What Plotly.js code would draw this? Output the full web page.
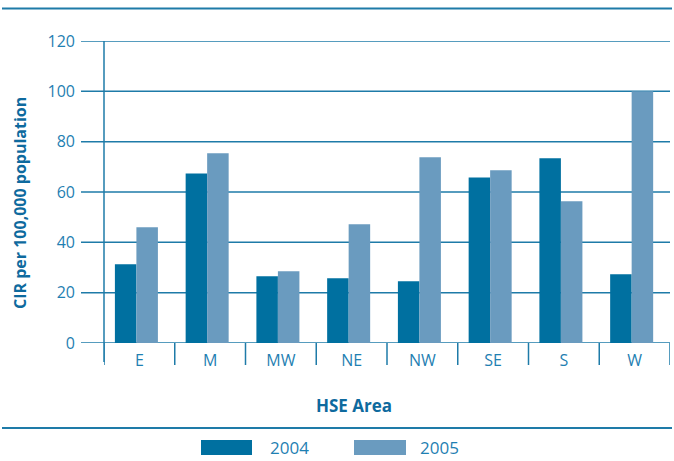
<!DOCTYPE html>
<html>
<head>
<meta charset="utf-8">
<script src="https://cdn.plot.ly/plotly-3.0.1.min.js"></script>
<style>html,body{margin:0;padding:0;background:#fff}#chart{width:674px;height:461px}</style>
</head>
<body>
<div id="chart"></div>
<script>
var categories = ["E", "M", "MW", "NE", "NW", "SE", "S", "W"];
var seriesNames = ["2004", "2005"];
var values2004 = [31.3, 67.4, 26.5, 25.7, 24.5, 65.8, 73.4, 27.3];
var values2005 = [46.0, 75.4, 28.5, 47.2, 73.8, 68.6, 56.3, 100.0];
var yTicks = [0, 20, 40, 60, 80, 100, 120];

var W = 674, H = 461;
var L = 104, R = 4, T = 41, B = 118;
var pw = W - L - R, ph = H - T - B;
function px(x){ return (x - L) / pw; }
function py(y){ return (H - B - y) / ph; }

var c2004 = "#0070A0", c2005 = "#6A9BBF";
var lineC = "#1E7BA8", textC = "#1F80B2", titleC = "#0E6A9E";
var font = "Open Sans, Noto Sans, sans-serif";

var barW = 0.304, groupShift = -0.042;
var traces = [
  {type: "bar", x: categories, y: values2004, name: seriesNames[0], marker: {color: c2004}, hoverinfo: "none",
    width: barW, offset: groupShift - barW},
  {type: "bar", x: categories, y: values2005, name: seriesNames[1], marker: {color: c2005}, hoverinfo: "none",
    width: barW, offset: groupShift}
];

var shapes = [];
yTicks.forEach(function(v){
  shapes.push({type: "line", xref: "paper", yref: "y", x0: px(81), x1: 1, y0: v, y1: v,
    line: {color: lineC, width: 1.5}, layer: "below"});
});
for (var i = 0; i <= categories.length; i++) {
  shapes.push({type: "line", xref: "x", yref: "paper", x0: i - 0.5, x1: i - 0.5, y0: py(365), y1: 0,
    line: {color: lineC, width: 1.5}});
}
shapes.push({type: "line", xref: "paper", yref: "paper", x0: 0, x1: 0, y0: py(362), y1: 1,
  line: {color: lineC, width: 1.5}});
shapes.push({type: "line", xref: "paper", yref: "paper", x0: px(2), x1: px(672), y0: py(8.5), y1: py(8.5),
  line: {color: lineC, width: 2}});
shapes.push({type: "line", xref: "paper", yref: "paper", x0: px(2), x1: px(672), y0: py(428), y1: py(428),
  line: {color: lineC, width: 2}});
var legendBoxes = [[201, 252], [354, 406]];
var legendText = [289, 439];
var cols = [c2004, c2005];
var annotations = [];
for (var k = 0; k < 2; k++) {
  shapes.push({type: "rect", xref: "paper", yref: "paper", x0: px(legendBoxes[k][0]), x1: px(legendBoxes[k][1]),
    y0: py(455), y1: py(440), fillcolor: cols[k], line: {width: 0}});
  annotations.push({xref: "paper", yref: "paper", x: px(legendText[k]), y: py(448), text: seriesNames[k],
    showarrow: false, xanchor: "center", yanchor: "middle", font: {family: font, size: 17, color: textC}});
}
annotations.push({xref: "paper", yref: "paper", x: px(20), y: py(203), text: "<b>CIR per 100,000 population</b>",
  textangle: -90, showarrow: false, xanchor: "center", yanchor: "middle", font: {family: font, size: 16, color: titleC}});
annotations.push({xref: "paper", yref: "paper", x: px(354), y: py(405), text: "<b>HSE Area</b>",
  showarrow: false, xanchor: "center", yanchor: "middle", font: {family: font, size: 17, color: titleC}});

var layout = {
  width: W, height: H,
  margin: {l: L, r: R, t: T, b: B, pad: 0},
  paper_bgcolor: "#fff", plot_bgcolor: "#fff",
  showlegend: false,
  barmode: "group", bargap: 0.39, bargroupgap: 0,
  xaxis: {type: "category", range: [-0.5, categories.length - 0.5], showgrid: false, zeroline: false, showline: false,
    ticks: "", tickfont: {family: font, size: 16, color: textC}, ticklabelstandoff: 6, fixedrange: true},
  yaxis: {range: [0, 120], tickvals: yTicks, showgrid: false, zeroline: false, showline: false, ticks: "",
    tickfont: {family: font, size: 16, color: textC}, ticklabelstandoff: 28, fixedrange: true},
  shapes: shapes,
  annotations: annotations
};
Plotly.newPlot("chart", traces, layout, {displayModeBar: false, staticPlot: true});
</script>
</body>
</html>
